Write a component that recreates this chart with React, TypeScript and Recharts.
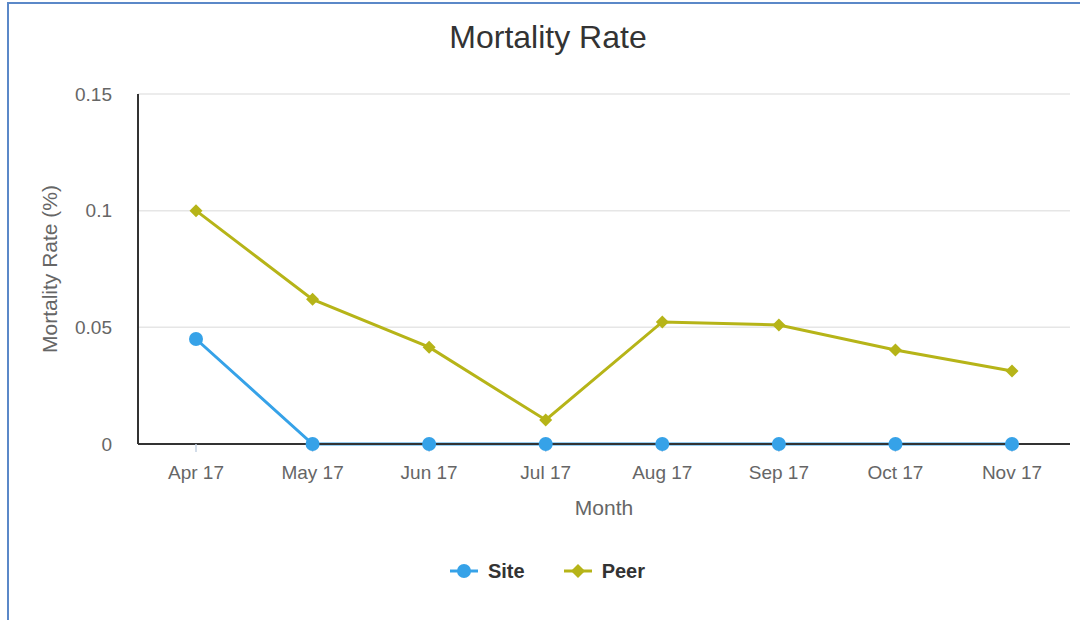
import { LineChart, Line, XAxis, YAxis, CartesianGrid, Legend } from "recharts";

const months = ["Apr 17", "May 17", "Jun 17", "Jul 17", "Aug 17", "Sep 17", "Oct 17", "Nov 17"];
const siteRates = [0.045, 0, 0, 0, 0, 0, 0, 0];
const peerRates = [0.1, 0.062, 0.0415, 0.0103, 0.0523, 0.051, 0.0403, 0.0313];
const yTicks = [0, 0.05, 0.1, 0.15];

const SITE_COLOR = "#36a2e8";
const PEER_COLOR = "#b6b418";
const FONT = "Arial, 'Liberation Sans', sans-serif";

const data = months.map((month, i) => ({
  month,
  site: siteRates[i],
  peer: peerRates[i],
}));

function Diamond(props: any) {
  const { cx, cy } = props;
  if (cx == null || cy == null) return null;
  const s = 6.5;
  return (
    <polygon
      points={`${cx},${cy - s} ${cx + s},${cy} ${cx},${cy + s} ${cx - s},${cy}`}
      fill={PEER_COLOR}
    />
  );
}

function LegendContent() {
  const items = [
    { name: "Site", color: SITE_COLOR, shape: "circle" },
    { name: "Peer", color: PEER_COLOR, shape: "diamond" },
  ];
  return (
    <div style={{ display: "flex", justifyContent: "center", height: 30, alignItems: "center" }}>
      {items.map((it) => (
        <div key={it.name} style={{ display: "flex", alignItems: "center", margin: "0 19px" }}>
          <svg width={30} height={18}>
            <line x1={1} y1={9} x2={29} y2={9} stroke={it.color} strokeWidth={3} />
            {it.shape === "circle" ? (
              <circle cx={15} cy={9} r={7} fill={it.color} />
            ) : (
              <polygon points="15,2 22,9 15,16 8,9" fill={it.color} />
            )}
          </svg>
          <span style={{ marginLeft: 9, fontSize: 20, fontWeight: "bold", color: "#333", fontFamily: FONT }}>
            {it.name}
          </span>
        </div>
      ))}
    </div>
  );
}

export default function App() {
  return (
    <div style={{ position: "absolute", left: 0, top: 0, width: 1080, height: 620, background: "#fff", overflow: "hidden", fontFamily: FONT }}>
      <div
        style={{
          position: "absolute",
          left: 7,
          top: 2,
          width: 1100,
          height: 640,
          borderLeft: "2px solid #5b88c8",
          borderTop: "2px solid #5b88c8",
        }}
      />
      <div
        style={{
          position: "absolute",
          left: 0,
          width: 1096,
          top: 19,
          textAlign: "center",
          fontSize: 32,
          color: "#333",
        }}
      >
        Mortality Rate
      </div>
      <div style={{ position: "absolute", left: 0, top: 0 }}>
        <LineChart
          width={1080}
          height={620}
          data={data}
          margin={{ top: 94, right: 10, bottom: 60, left: 0 }}
        >
          <CartesianGrid vertical={false} stroke="#e6e6e6" strokeWidth={1.5} />
          <XAxis
            dataKey="month"
            padding={{ left: 58, right: 58 }}
            height={86}
            axisLine={{ stroke: "#333", strokeWidth: 2 }}
            tickLine={{ stroke: "#c4d2e2", strokeWidth: 1.5 }}
            tickSize={8}
            tickMargin={14}
            tick={{ fill: "#666", fontSize: 19, fontFamily: FONT }}
            label={{ value: "Month", position: "insideBottom", offset: 15, fill: "#666", fontSize: 21, fontFamily: FONT }}
          />
          <YAxis
            width={138}
            domain={[0, 0.15]}
            ticks={yTicks}
            axisLine={{ stroke: "#333", strokeWidth: 2 }}
            tickLine={false}
            tickSize={6}
            tickMargin={20}
            tick={{ fill: "#666", fontSize: 19, fontFamily: FONT }}
            label={{ value: "Mortality Rate (%)", angle: -90, position: "center", dx: -19, fill: "#666", fontSize: 21, fontFamily: FONT }}
          />
          <Legend verticalAlign="bottom" content={<LegendContent />} wrapperStyle={{ top: 556, left: 0, width: 1094 }} />
          <Line
            dataKey="site"
            name="Site"
            stroke={SITE_COLOR}
            strokeWidth={3}
            dot={{ r: 7, fill: SITE_COLOR, stroke: "none" }}
            isAnimationActive={false}
          />
          <Line
            dataKey="peer"
            name="Peer"
            stroke={PEER_COLOR}
            strokeWidth={3}
            dot={<Diamond />}
            isAnimationActive={false}
          />
        </LineChart>
      </div>
    </div>
  );
}
